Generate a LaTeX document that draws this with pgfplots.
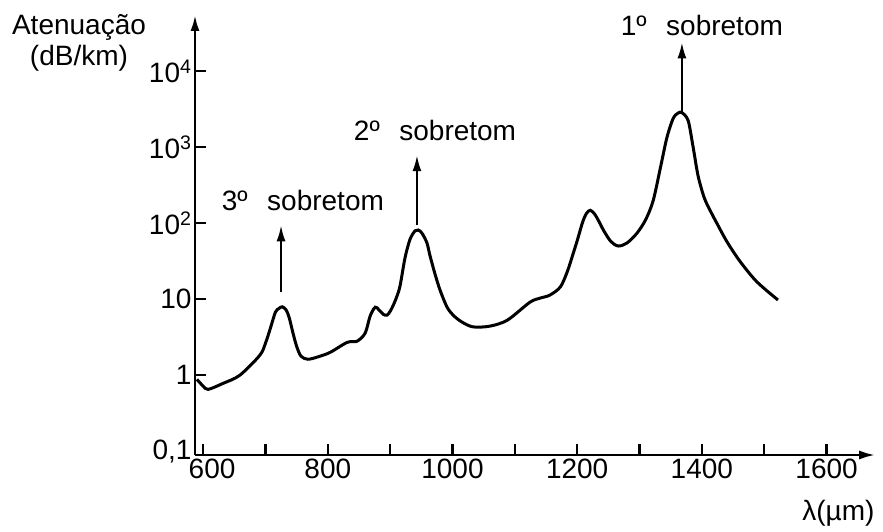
\documentclass[border=0pt]{standalone}
\usepackage{fontspec}
\setmainfont{Liberation Sans}
\usepackage{pgfplots}
\pgfplotsset{compat=1.18}
\usetikzlibrary{arrows.meta}
\begin{document}
\begin{tikzpicture}[font=\fontsize{28bp}{31bp}\selectfont]
\path[use as bounding box] (-195bp,-77bp) rectangle (688bp,455bp);
\begin{axis}[
  at={(0,0)}, anchor=south west,
  scale only axis, width=680.2bp, height=440bp,
  xmin=587, xmax=1678,
  ymode=log, ymin=0.089, ymax=55000,
  axis lines=left,
  axis line style={line width=2.5bp, black},
  x axis line style={-{Latex[length=16bp,width=9bp]}},
  y axis line style={-{Latex[length=16bp,width=9bp]}},
  xtick={600,700,...,1600},
  xticklabels={\hspace{18bp}600,,800,,1000,,1200,,1400,,1600},
  ytick={1,10,100,1000,10000},
  yticklabels={1,10,10\textsuperscript{2},10\textsuperscript{3},10\textsuperscript{4}},
  extra y ticks={0.1},
  extra y tick labels={0{,}1},
  extra y tick style={major tick length=0pt},
  yminorticks=false, xminorticks=false,
  tick align=inside,
  major tick length=11bp,
  every tick/.style={line width=2.5bp, black},
  tick label style={font=\fontsize{28bp}{31bp}\selectfont},
  clip=false,
]
\addplot[smooth, line width=3bp, black] coordinates {
(590,0.88) (600,0.72) (608,0.65) (632,0.78) (659,1.0) (691,1.83)
(700,2.63) (708,4.17) (716,6.76) (722,7.59) (727,7.94) (733,7.24)
(738,5.75) (744,3.63) (750,2.40) (757,1.78) (768,1.62) (785,1.75)
(804,2.0) (831,2.7) (847,2.8) (860,3.59) (868,6.03) (876,7.85)
(882,7.24) (889,6.31) (895,6.17) (900,6.92) (905,8.32) (911,11.0)
(916,15.1) (924,35.5) (932,61.7) (940,79.4) (945,81.3) (951,74.1)
(959,55.0) (964,37.2) (972,21.4) (980,13.2) (991,7.94) (1001,6.17)
(1015,5.01) (1033,4.32) (1060,4.42) (1088,5.3) (1124,9.1) (1140,10.3)
(1156,11.3) (1173,14.5) (1184,22.9) (1192,36.3) (1200,58.9) (1209,105)
(1215,135) (1221,148) (1228,132) (1235,105) (1242,81.3) (1254,57.5)
(1266,50.1) (1280,55) (1296,74.1) (1310,112) (1322,200) (1334,562)
(1344,1349) (1354,2399) (1362,2818) (1368,2851) (1378,2239) (1386,1000)
(1394,417) (1404,214) (1415,138) (1424,100) (1440,57.5) (1461,31.6)
(1488,17.0) (1522,9.77)
};
\draw[line width=2.2bp, -{Latex[length=16bp,width=9bp]}] (axis cs:725,12.4) -- (axis cs:725,94);
\draw[line width=2.2bp, -{Latex[length=16bp,width=9bp]}] (axis cs:943,94) -- (axis cs:943,785);
\draw[line width=2.2bp, -{Latex[length=16bp,width=9bp]}] (axis cs:1368,2950) -- (axis cs:1368,24000);
\node at (axis cs:760,200) {3º\hspace{0.7em}sobretom};
\node at (axis cs:972,1660) {2º\hspace{0.7em}sobretom};
\node at (axis cs:1400,40000) {1º\hspace{0.7em}sobretom};
\end{axis}
\node[align=center] at (-116bp,412bp) {Atenuação\\(dB/km)};
\node[anchor=east] at (683bp,-58bp) {λ(µm)};
\end{tikzpicture}
\end{document}
